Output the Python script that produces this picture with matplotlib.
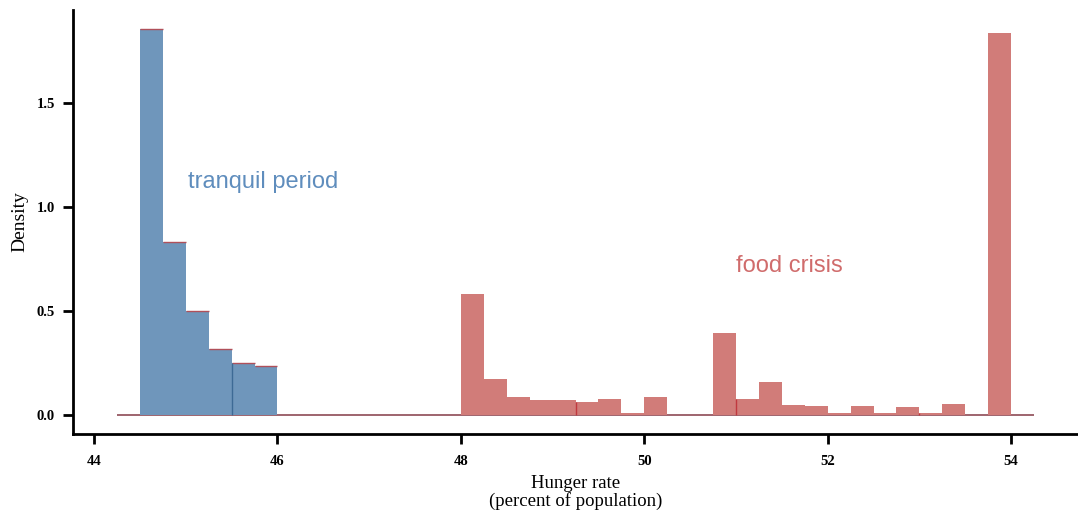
import matplotlib
matplotlib.use("Agg")
import matplotlib.pyplot as plt
import numpy as np

# Data: histogram densities (bin width 0.25)
tranquil_edges = [44.5, 44.75, 45.0, 45.25, 45.5, 45.75, 46.0]
tranquil_density = [1.856, 0.832, 0.500, 0.317, 0.250, 0.236]

crisis_edges = [48.0, 48.25, 48.5, 48.75, 49.0, 49.25, 49.5, 49.75, 50.0, 50.25,
                50.5, 50.75, 51.0, 51.25, 51.5, 51.75, 52.0, 52.25, 52.5, 52.75,
                53.0, 53.25, 53.5, 53.75, 54.0]
crisis_density = [0.582, 0.173, 0.087, 0.072, 0.072, 0.062, 0.077, 0.010, 0.087, 0.0,
                  0.0, 0.394, 0.077, 0.159, 0.048, 0.043, 0.010, 0.043, 0.010, 0.038,
                  0.010, 0.053, 0.0, 1.837]

baseline_range = [44.25, 54.25]
group_breaks_blue = [45.5]
group_breaks_red = [49.25, 51.0, 53.0]

x_ticks = [44, 46, 48, 50, 52, 54]
y_ticks = [0.0, 0.5, 1.0, 1.5]

blue = "#6f96bb"
blue_dark = "#3d6a95"
red = "#d17c79"
red_edge = "#b0505a"

fig = plt.figure(figsize=(10.78, 5.19), dpi=100)
ax = fig.add_axes([73/1078, (519-434)/519, (1078-73)/1078, (434-10)/519])

# baseline
ax.hlines(0, baseline_range[0], baseline_range[1], color="#8e4a55", lw=1.2, zorder=1)

# crisis bars
ce = np.array(crisis_edges)
ax.bar(ce[:-1], crisis_density, width=np.diff(ce), align="edge", color=red,
       linewidth=0, zorder=2)
# tranquil bars
te = np.array(tranquil_edges)
ax.bar(te[:-1], tranquil_density, width=np.diff(te), align="edge", color=blue,
       linewidth=0, zorder=3)
# thin red outline on top of tranquil bars
ax.hlines(tranquil_density, te[:-1], te[1:], color=red_edge, lw=1.0, zorder=4)

# group break lines
for b in group_breaks_blue:
    i = tranquil_edges.index(b)
    ax.vlines(b, 0, min(tranquil_density[i-1], tranquil_density[i]), color=blue_dark, lw=1.0, zorder=4)
for b in group_breaks_red:
    i = crisis_edges.index(b)
    ax.vlines(b, 0, min(crisis_density[i-1], crisis_density[i]), color="#c0393f", lw=1.0, zorder=4)

ax.text(45.02, 1.12, "tranquil period", color="#5f8dbd", fontsize=17,
        family="Liberation Sans", va="center", ha="left")
ax.text(51.0, 0.716, "food crisis", color="#d06c6c", fontsize=17,
        family="Liberation Sans", va="center", ha="left")

ax.set_xlim(43.77, 54.73)
ax.set_ylim(-0.091, 1.947)

for s in ["top", "right"]:
    ax.spines[s].set_visible(False)
for s in ["left", "bottom"]:
    ax.spines[s].set_linewidth(2)

ax.set_xticks(x_ticks)
ax.set_xticklabels([str(t) for t in x_ticks])
ax.set_yticks(y_ticks)
ax.set_yticklabels([f"{t:.1f}" for t in y_ticks])
ax.tick_params(axis="both", direction="out", length=7, width=2)
ax.tick_params(axis="x", pad=8)
ax.tick_params(axis="y", pad=6)
for lab in ax.get_xticklabels() + ax.get_yticklabels():
    lab.set_family("Liberation Serif")
    lab.set_fontweight("bold")
    lab.set_fontsize(10.5)

ax.set_ylabel("Density", family="Liberation Serif", fontsize=14, labelpad=6)
ax.set_xlabel("Hunger rate\n(percent of population)", family="Liberation Serif",
              fontsize=13.5, labelpad=5, linespacing=1.0)

fig.savefig("out.png", dpi=100)
